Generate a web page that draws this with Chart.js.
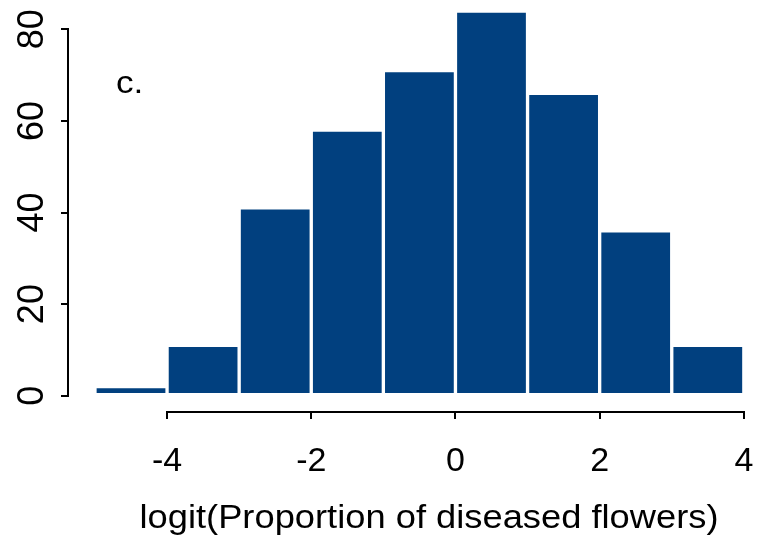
<!DOCTYPE html>
<html>
<head>
<meta charset="utf-8">
<script src="https://cdn.jsdelivr.net/npm/chart.js@4.4.0/dist/chart.umd.min.js"></script>
<style>
  html, body { margin: 0; padding: 0; background: #fff; }
  #wrap { position: relative; width: 760px; height: 536px; }
</style>
</head>
<body>
<div id="wrap"><canvas id="histChart"></canvas></div>
<script>
// Histogram bins (midpoints) and counts
const binMids = [-4.5, -3.5, -2.5, -1.5, -0.5, 0.5, 1.5, 2.5, 3.5];
const counts = [2, 11, 41, 58, 71, 84, 66, 36, 11];
const xTicks = [-4, -2, 0, 2, 4];
const yTicks = [0, 20, 40, 60, 80];
const xTitle = 'logit(Proportion of diseased flowers)';
const panelLabel = 'c.';

const FONT = '"Liberation Sans", Arial, Helvetica, sans-serif';
const barColor = '#01407f';

// R-style axes: spine only between first and last tick, rotated y labels, text
const rAxes = {
    id: 'rAxes',
    afterDraw(chart) {
        const ctx = chart.ctx;
        const xs = chart.scales.x;
        const ys = chart.scales.y;
        const area = chart.chartArea;
        ctx.save();
        ctx.strokeStyle = '#000';
        ctx.lineWidth = 2;
        ctx.lineCap = 'butt';

        // y spine
        const yx = area.left - 1;
        ctx.beginPath();
        ctx.moveTo(yx, ys.getPixelForValue(yTicks[0]) + 1);
        ctx.lineTo(yx, ys.getPixelForValue(yTicks[yTicks.length - 1]) - 1);
        ctx.stroke();

        // x spine
        const xy = area.bottom + 1;
        ctx.beginPath();
        ctx.moveTo(xs.getPixelForValue(xTicks[0]) - 1, xy);
        ctx.lineTo(xs.getPixelForValue(xTicks[xTicks.length - 1]) + 1, xy);
        ctx.stroke();

        // y tick labels, rotated like R's default las=0
        ctx.fillStyle = '#000';
        ctx.font = '36px ' + FONT;
        ctx.textAlign = 'center';
        ctx.textBaseline = 'alphabetic';
        yTicks.forEach(v => {
            ctx.save();
            ctx.translate(43, ys.getPixelForValue(v));
            ctx.rotate(-Math.PI / 2);
            ctx.fillText(String(v), 0, 0);
            ctx.restore();
        });

        // x axis title
        ctx.save();
        ctx.translate(429, 528);
        ctx.scale(1.1, 1);
        ctx.font = '33px ' + FONT;
        ctx.fillText(xTitle, 0, 0);
        ctx.restore();

        // panel label
        ctx.save();
        ctx.translate(116, 93);
        ctx.scale(1.1, 1);
        ctx.textAlign = 'left';
        ctx.font = '32px ' + FONT;
        ctx.fillText(panelLabel, 0, 0);
        ctx.restore();

        ctx.restore();
    }
};

const ctx = document.getElementById('histChart').getContext('2d');
new Chart(ctx, {
    type: 'bar',
    data: {
        datasets: [{
            data: binMids.map((x, i) => ({ x: x, y: counts[i] })),
            backgroundColor: barColor,
            borderColor: '#ffffff',
            borderWidth: 2,
            borderSkipped: false,
            barPercentage: 1,
            categoryPercentage: 1
        }]
    },
    options: {
        responsive: true,
        maintainAspectRatio: false,
        animation: false,
        layout: { padding: 0 },
        plugins: {
            legend: { display: false },
            tooltip: { enabled: false }
        },
        scales: {
            x: {
                type: 'linear',
                offset: false,
                min: -5.36,
                max: 4.224,
                afterBuildTicks: s => { s.ticks = xTicks.map(v => ({ value: v })); },
                afterFit: s => {
                    s.height = 125;
                    s.paddingLeft = 0;
                    s.paddingRight = 0;
                },
                border: { display: false },
                grid: {
                    offset: false,
                    drawOnChartArea: false,
                    drawTicks: true,
                    tickLength: 8,
                    color: '#000',
                    lineWidth: 2
                },
                ticks: {
                    color: '#000',
                    font: { size: 34, family: FONT },
                    padding: 22,
                    maxRotation: 0,
                    autoSkip: false
                }
            },
            y: {
                min: -3.34,
                max: 86.4,
                afterBuildTicks: s => { s.ticks = yTicks.map(v => ({ value: v })); },
                afterFit: s => {
                    s.width = 69;
                    s.paddingTop = 0;
                    s.paddingBottom = 0;
                },
                border: { display: false },
                grid: {
                    drawOnChartArea: false,
                    drawTicks: true,
                    tickLength: 8,
                    color: '#000',
                    lineWidth: 2
                },
                ticks: { display: false }
            }
        }
    },
    plugins: [rAxes]
});
</script>
</body>
</html>
